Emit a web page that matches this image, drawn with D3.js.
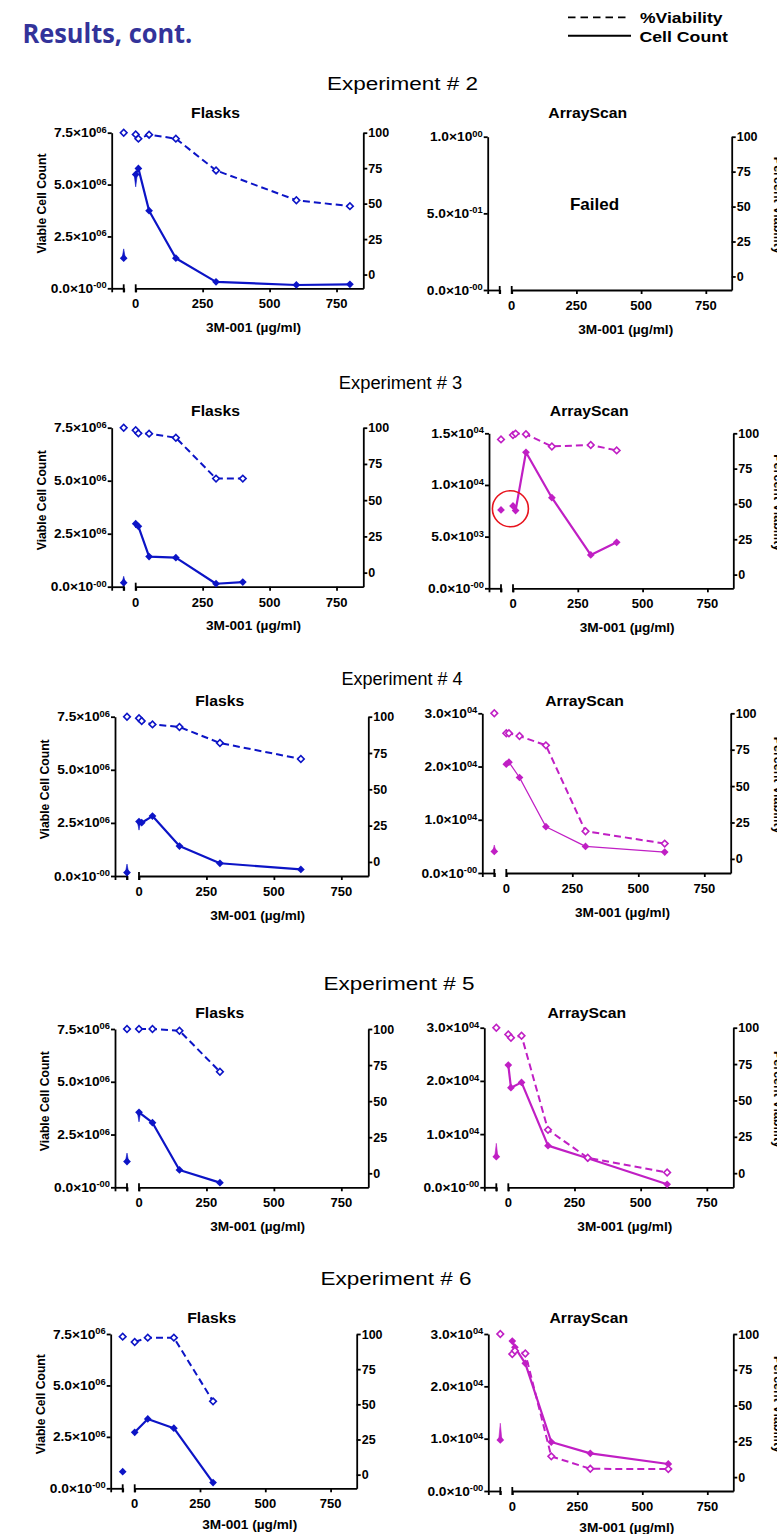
<!DOCTYPE html>
<html>
<head>
<meta charset="utf-8">
<script src="https://cdn.jsdelivr.net/npm/d3@7"></script>
<style>
  html, body { margin: 0; padding: 0; background: #fff; }
  svg { display: block; }
</style>
</head>
<body>
<script>
// ---------------- DATA ----------------
// concentration -50 = untreated control (drawn on the broken axis segment)
const concTicks = [0, 250, 500, 750];
const viabTicks = [0, 25, 50, 75, 100];
const flaskCountTicks = [0, 2.5e6, 5e6, 7.5e6];
const e2ArrayCountTicks = [0, 0.5, 1];
const e3ArrayCountTicks = [0, 5e3, 1e4, 1.5e4];
const arrayCountTicks = [0, 1e4, 2e4, 3e4];

// Experiment 2
const e2FlaskConc  = [-50, 0, 10, 50, 150, 300, 600, 800];
const e2FlaskCount = [1.45e6, 5.49e6, 5.78e6, 3.74e6, 1.45e6, 0.31e6, 0.16e6, 0.19e6];
const e2FlaskViab  = [100, 98.8, 95.8, 98.6, 95.8, 73.4, 52.4, 48.2];
const e2FlaskErr   = [0.45e6, -0.6e6, 0, 0, 0, 0, 0, 0];
const e2ArrayConc  = [];
const e2ArrayCount = [];
const e2ArrayViab  = [];
const e2ArrayErr   = [];

// Experiment 3
const e3FlaskConc  = [-50, 0, 10, 50, 150, 300, 400];
const e3FlaskCount = [0.19e6, 2.97e6, 2.85e6, 1.42e6, 1.37e6, 0.14e6, 0.22e6];
const e3FlaskViab  = [100, 98.2, 96.1, 95.9, 93.1, 64.9, 64.9];
const e3FlaskErr   = [0.3e6, -0.2e6, 0, 0, 0, 0, 0];
const e3ArrayConc  = [-50, 0, 10, 50, 150, 300, 400];
const e3ArrayCount = [7580, 7970, 7520, 13160, 8770, 3230, 4450];
const e3ArrayViab  = [95.7, 98.8, 99.8, 99.3, 90.7, 91.7, 87.9];
const e3ArrayErr   = [0, 0, 0, 0, 0, 0, 0];
const e3ArrayHighlight = [-10, 7700];   // red circle around control / low-dose points

// Experiment 4
const e4FlaskConc  = [-50, 0, 10, 50, 150, 300, 600];
const e4FlaskCount = [0.16e6, 2.56e6, 2.51e6, 2.82e6, 1.41e6, 0.60e6, 0.31e6];
const e4FlaskViab  = [100, 98.9, 97.0, 94.7, 92.9, 81.9, 70.9];
const e4FlaskErr   = [0.4e6, -0.4e6, 0, 0, 0, 0, 0];
const e4ArrayConc  = [-50, 0, 10, 50, 150, 300, 600];
const e4ArrayCount = [4060, 20440, 20810, 17940, 8690, 5000, 3940];
const e4ArrayViab  = [100, 86.3, 86.3, 84.4, 78.0, 19.0, 10.5];
const e4ArrayErr   = [1200, 0, 0, 0, 0, 0, 0];

// Experiment 5
const e5FlaskConc  = [-50, 0, 50, 150, 300];
const e5FlaskCount = [1.22e6, 3.55e6, 3.06e6, 0.82e6, 0.22e6];
const e5FlaskViab  = [100, 100, 100, 98.8, 70.4];
const e5FlaskErr   = [0.4e6, -0.45e6, 0, 0, 0];
const e5ArrayConc  = [-50, 0, 10, 50, 150, 300, 600];
const e5ArrayCount = [5760, 22980, 18720, 19720, 7830, 5450, 560];
const e5ArrayViab  = [100, 95.4, 93.1, 94.5, 29.8, 10.6, 0.5];
const e5ArrayErr   = [2500, 0, 0, 0, 0, 0, 0];

// Experiment 6
const e6FlaskConc  = [-50, 0, 50, 150, 300];
const e6FlaskCount = [0.81e6, 2.72e6, 3.37e6, 2.92e6, 0.28e6];
const e6FlaskViab  = [98.1, 94.3, 97.4, 97.4, 52.1];
const e6FlaskErr   = [0, 0, 0, 0, 0];
const e6ArrayConc  = [-50, 0, 10, 50, 150, 300, 600];
const e6ArrayCount = [9750, 28660, 27450, 24390, 9360, 7200, 5160];
const e6ArrayViab  = [100, 86.0, 88.3, 86.4, 14.5, 5.8, 5.6];
const e6ArrayErr   = [3200, 0, 0, 0, 0, 0, 0];

const experiments = ["2", "3", "4", "5", "6"];

// ---------------- LAYOUT (page geometry only) ----------------
const layout = [
  {titleX: 402.5, titleY: 89.5, titleSX: 1.25, subY: 117.5, xTitleDy: 43.5,
   flask: {L: 111.7, R: 363.3, T: 132.7, B: 288.3},
   array: {L: 487.7, R: 731.7, T: 136.7, B: 290}},
  {titleX: 400.5, titleY: 388.5, titleSX: 1.02, subY: 415.5, xTitleDy: 43.5,
   flask: {L: 111.7, R: 363.3, T: 427.7, B: 586.7},
   array: {L: 489, R: 733.3, T: 433.3, B: 588.3}},
  {titleX: 402, titleY: 684.5, titleSX: 1.0, subY: 705.5, xTitleDy: 43.5,
   flask: {L: 115, R: 368.3, T: 716.7, B: 876},
   array: {L: 482.3, R: 730.7, T: 713.3, B: 873}},
  {titleX: 399, titleY: 989.5, titleSX: 1.25, subY: 1017.7, xTitleDy: 43.5,
   flask: {L: 115, R: 368.3, T: 1029, B: 1187.3},
   array: {L: 484.3, R: 733.3, T: 1027.7, B: 1187.3}},
  {titleX: 396, titleY: 1284.5, titleSX: 1.25, subY: 1323.3, xTitleDy: 40.5,
   flask: {L: 110.7, R: 356.7, T: 1334, B: 1488.3},
   array: {L: 488.3, R: 733.3, T: 1334, B: 1491}}
];

const flaskSets = [
  {conc: e2FlaskConc, count: e2FlaskCount, viab: e2FlaskViab, err: e2FlaskErr},
  {conc: e3FlaskConc, count: e3FlaskCount, viab: e3FlaskViab, err: e3FlaskErr},
  {conc: e4FlaskConc, count: e4FlaskCount, viab: e4FlaskViab, err: e4FlaskErr},
  {conc: e5FlaskConc, count: e5FlaskCount, viab: e5FlaskViab, err: e5FlaskErr},
  {conc: e6FlaskConc, count: e6FlaskCount, viab: e6FlaskViab, err: e6FlaskErr}
];
const arraySets = [
  {conc: e2ArrayConc, count: e2ArrayCount, viab: e2ArrayViab, err: e2ArrayErr, ticks: e2ArrayCountTicks, failed: true},
  {conc: e3ArrayConc, count: e3ArrayCount, viab: e3ArrayViab, err: e3ArrayErr, ticks: e3ArrayCountTicks, highlight: e3ArrayHighlight},
  {conc: e4ArrayConc, count: e4ArrayCount, viab: e4ArrayViab, err: e4ArrayErr, ticks: arrayCountTicks, thin: true},
  {conc: e5ArrayConc, count: e5ArrayCount, viab: e5ArrayViab, err: e5ArrayErr, ticks: arrayCountTicks},
  {conc: e6ArrayConc, count: e6ArrayCount, viab: e6ArrayViab, err: e6ArrayErr, ticks: arrayCountTicks}
];

// ---------------- DRAW ----------------
const BLUE = "#0c14c6";
const MAGENTA = "#c01fc4";
const FONT = "'Liberation Sans', Arial, Helvetica, sans-serif";

const svg = d3.select("body").append("svg")
  .attr("width", 777).attr("height", 1534)
  .attr("font-family", FONT);
svg.append("rect").attr("width", 777).attr("height", 1534).attr("fill", "#fff");

function txt(g, x, y, str, o = {}) {
  const t = g.append("text")
    .attr("transform", `translate(${x},${y})` + (o.rot ? ` rotate(${o.rot})` : "") + ` scale(${o.sx || 1},1)`)
    .attr("font-size", o.size || 12)
    .attr("font-weight", o.weight || "bold")
    .attr("text-anchor", o.anchor || "start")
    .attr("fill", o.fill || "#000");
  if (o.family) t.attr("font-family", o.family);
  t.text(str);
  return t;
}

function sci(v) {
  if (v === 0) return {m: "0.0", e: "-00"};
  const e = Math.floor(Math.log10(v) + 1e-9);
  const m = v / Math.pow(10, e);
  return {m: m.toFixed(1), e: (e < 0 ? "-" : "") + String(Math.abs(e)).padStart(2, "0")};
}

// header
txt(svg, 22.5, 42.5, "Results, cont.", {size: 27, sx: 0.94, fill: "#33339a", family: "'Open Sans', sans-serif"});

// legend
const legend = svg.append("g");
legend.append("line").attr("x1", 568).attr("x2", 627).attr("y1", 17.3).attr("y2", 17.3)
  .attr("stroke", "#000").attr("stroke-width", 1.8).attr("stroke-dasharray", "7.5,5");
legend.append("line").attr("x1", 568).attr("x2", 631).attr("y1", 35.7).attr("y2", 35.7)
  .attr("stroke", "#000").attr("stroke-width", 2);
txt(legend, 640, 22.5, "%Viability", {size: 15, sx: 1.17});
txt(legend, 639.5, 41.5, "Cell Count", {size: 15, sx: 1.18});

function styleAxis(ax) {
  ax.selectAll("path, line").attr("stroke", "#000").attr("stroke-width", 1.8);
  ax.selectAll("text").remove();
}

function diamond(size) {
  return d3.symbol().type(d3.symbolSquare).size(size)();
}

function drawPanel(g, box, set, o) {
  const {L, R, T, B} = box;
  const x = d3.scaleLinear().domain([0, 850]).range([L + 24, R]);
  const xc = d3.scaleLinear().domain([-62, -50]).range([L, L + 12]);
  const yC = d3.scaleLinear().domain([0, d3.max(o.countTicks)]).range([B, T]);
  const yP = d3.scaleLinear().domain([-9.7, 100]).range([B, T]);

  // axes
  const axL = g.append("g").attr("transform", `translate(${L},0)`)
    .call(d3.axisLeft(yC).tickValues(o.countTicks).tickSize(4).tickSizeOuter(0));
  styleAxis(axL);
  const axR = g.append("g").attr("transform", `translate(${R},0)`)
    .call(d3.axisRight(yP).tickValues(viabTicks).tickSize(4).tickSizeOuter(0));
  styleAxis(axR);
  const axX = g.append("g").attr("transform", `translate(0,${B})`)
    .call(d3.axisBottom(x).tickValues(concTicks).tickSize(4).tickSizeOuter(0));
  styleAxis(axX);
  const axC = g.append("g").attr("transform", `translate(0,${B})`)
    .call(d3.axisBottom(xc).tickValues([-62, -50]).tickSize(4).tickSizeOuter(0));
  styleAxis(axC);
  // break-segment end bars
  [x(0), xc(-50)].forEach(bx => {
    g.append("line").attr("x1", bx).attr("x2", bx).attr("y1", B - 4).attr("y2", B + 4)
      .attr("stroke", "#000").attr("stroke-width", 1.8);
  });

  // left tick labels (scientific)
  o.countTicks.forEach(v => {
    const s = sci(v);
    const t = txt(g, L - 5, yC(v) + 4.5, "", {size: 12.5, anchor: "end", sx: 1.1});
    t.append("tspan").text(s.m + "×10");
    t.append("tspan").attr("font-size", 8.5).attr("dy", -4.5).text(s.e);
  });
  // right tick labels
  viabTicks.forEach(v => txt(g, R + 5, yP(v) + 4.5, String(v), {size: 12.5}));
  // x tick labels
  concTicks.forEach(v => txt(g, x(v), B + 19.8, String(v), {size: 13, anchor: "middle"}));

  // titles
  txt(g, (L + R) / 2 - 22, o.subY, o.title, {size: 15, anchor: "middle", sx: 1.05});
  txt(g, (x(0) + R) / 2 + 4, B + o.xTitleDy, "3M-001 (µg/ml)", {size: 13, anchor: "middle", sx: 1.05});
  if (o.leftTitle) txt(g, L - 66, (T + B) / 2 - 7, o.leftTitle, {size: 12.2, anchor: "middle", rot: -90});
  if (o.rightTitle) txt(g, 773.5, (T + B) / 2 - 8, o.rightTitle, {size: 12.5, anchor: "middle", rot: 90});

  if (set.failed) {
    txt(g, x(320), yP(50) + 3, "Failed", {size: 17, anchor: "middle"});
    return;
  }

  const idx = d3.range(set.conc.length);
  const main = idx.filter(i => set.conc[i] >= 0);
  const px = i => set.conc[i] < 0 ? xc(set.conc[i]) : x(set.conc[i]);

  const lineC = d3.line().x(i => x(set.conc[i])).y(i => yC(set.count[i]));
  const lineV = d3.line().x(i => x(set.conc[i])).y(i => yP(set.viab[i]));

  g.append("path").datum(main).attr("d", lineC).attr("fill", "none")
    .attr("stroke", o.color).attr("stroke-width", set.thin ? 1.3 : 2.2).attr("stroke-linejoin", "round");
  g.append("path").datum(main).attr("d", lineV).attr("fill", "none")
    .attr("stroke", o.color).attr("stroke-width", 2).attr("stroke-dasharray", "7,4");

  // error spikes
  idx.filter(i => set.err[i]).forEach(i => {
    const cx = px(i), y0 = yC(set.count[i]), y1 = yC(set.count[i] + set.err[i]);
    g.append("path").attr("d", `M${cx - 1.6},${y0}L${cx + 1.6},${y0}L${cx},${y1}Z`)
      .attr("fill", o.color).attr("stroke", o.color).attr("stroke-width", 0.6);
  });

  // count markers (filled diamonds)
  g.selectAll(null).data(idx).join("path")
    .attr("d", diamond(30))
    .attr("transform", i => `translate(${px(i)},${yC(set.count[i])}) rotate(45)`)
    .attr("fill", o.color);
  // viability markers (open diamonds)
  g.selectAll(null).data(idx).join("path")
    .attr("d", diamond(22))
    .attr("transform", i => `translate(${px(i)},${yP(set.viab[i])}) rotate(45)`)
    .attr("fill", "#fff").attr("stroke", o.color).attr("stroke-width", 1.6);

  if (set.highlight) {
    g.append("circle").attr("cx", x(set.highlight[0])).attr("cy", yC(set.highlight[1]))
      .attr("r", 18).attr("fill", "none").attr("stroke", "#e8141e").attr("stroke-width", 1.6);
  }
}

experiments.forEach((exp, r) => {
  const lay = layout[r];
  const g = svg.append("g");
  txt(g, lay.titleX, lay.titleY, "Experiment # " + exp, {size: 18, weight: "normal", anchor: "middle", sx: lay.titleSX});
  drawPanel(g.append("g"), lay.flask, flaskSets[r],
    {color: BLUE, countTicks: flaskCountTicks, title: "Flasks", subY: lay.subY, xTitleDy: lay.xTitleDy, leftTitle: "Viable Cell Count"});
  drawPanel(g.append("g"), lay.array, arraySets[r],
    {color: MAGENTA, countTicks: arraySets[r].ticks, title: "ArrayScan", subY: lay.subY, xTitleDy: lay.xTitleDy, rightTitle: "Percent Viability"});
});
</script>
</body>
</html>
